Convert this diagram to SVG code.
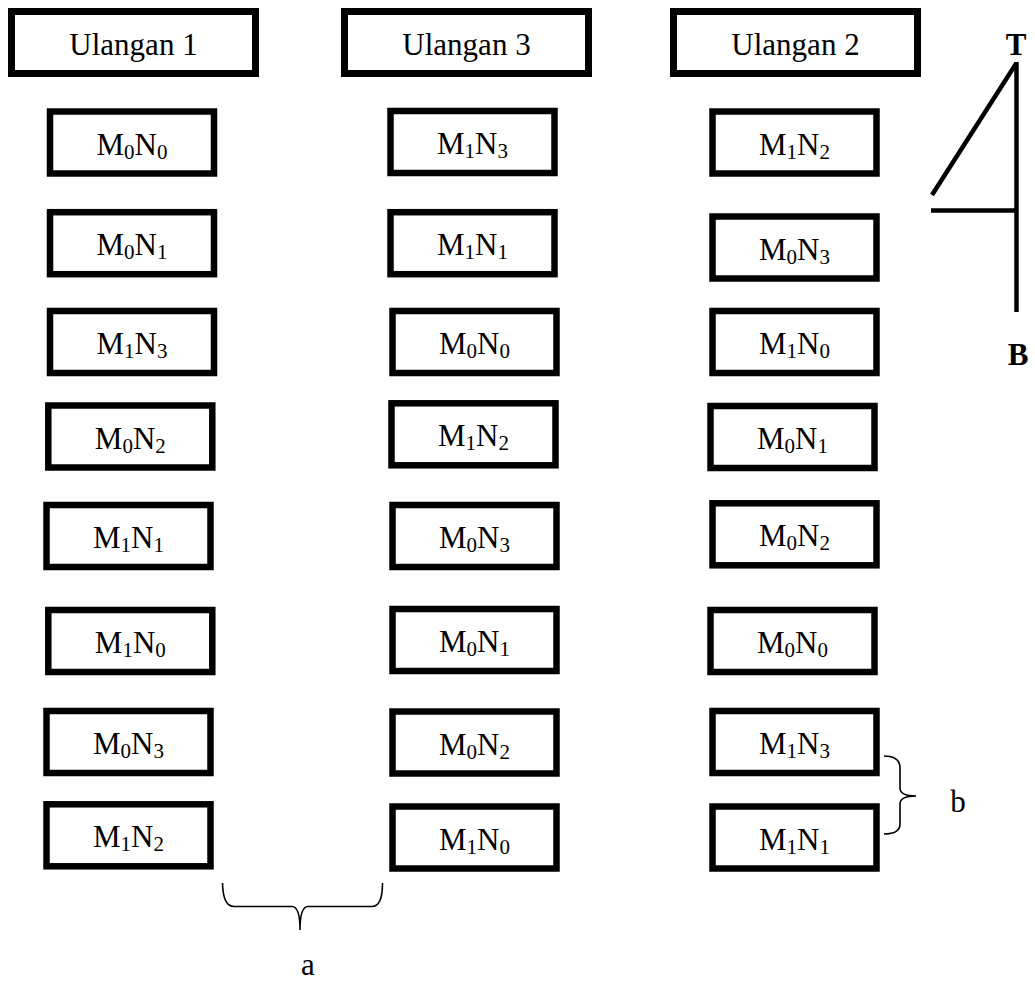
<svg xmlns="http://www.w3.org/2000/svg" width="1035" height="981" viewBox="0 0 1035 981">
<style>
.hdr rect{fill:#fff;stroke:#000;stroke-width:7}
.box rect{fill:#fff;stroke:#000;stroke-width:6.5}
text{font-family:"Liberation Serif","Times New Roman",serif;font-size:31px;fill:#000;text-anchor:middle}
.s{font-size:21px}
.bold{font-weight:bold}
.cl{fill:none;stroke:#000;stroke-width:4.5}
.br{fill:none;stroke:#000;stroke-width:1.6}
</style>
<rect width="1035" height="981" fill="#fff"/>
<g id="h1" class="hdr"><rect x="11.5" y="11.5" width="244" height="62"/><text x="133.5" y="55">Ulangan 1</text></g>
<g id="h3" class="hdr"><rect x="344.5" y="11.5" width="244" height="62"/><text x="466.5" y="55">Ulangan 3</text></g>
<g id="h2" class="hdr"><rect x="673.5" y="11.5" width="244" height="62"/><text x="795.5" y="55">Ulangan 2</text></g>

<g id="c1r1" class="box"><rect x="50" y="111.5" width="164" height="62"/><text x="132" y="154.5">M<tspan class="s" dy="4">0</tspan><tspan dy="-4">N</tspan><tspan class="s" dy="4">0</tspan></text></g>
<g id="c1r2" class="box"><rect x="50" y="212.2" width="164" height="62"/><text x="132" y="255.2">M<tspan class="s" dy="4">0</tspan><tspan dy="-4">N</tspan><tspan class="s" dy="4">1</tspan></text></g>
<g id="c1r3" class="box"><rect x="50" y="311" width="164" height="62"/><text x="132" y="354">M<tspan class="s" dy="4">1</tspan><tspan dy="-4">N</tspan><tspan class="s" dy="4">3</tspan></text></g>
<g id="c1r4" class="box"><rect x="48.3" y="405.5" width="164" height="62"/><text x="130.3" y="448.5">M<tspan class="s" dy="4">0</tspan><tspan dy="-4">N</tspan><tspan class="s" dy="4">2</tspan></text></g>
<g id="c1r5" class="box"><rect x="46.5" y="505" width="164" height="62"/><text x="128.5" y="548">M<tspan class="s" dy="4">1</tspan><tspan dy="-4">N</tspan><tspan class="s" dy="4">1</tspan></text></g>
<g id="c1r6" class="box"><rect x="48.3" y="610" width="164" height="62"/><text x="130.3" y="653">M<tspan class="s" dy="4">1</tspan><tspan dy="-4">N</tspan><tspan class="s" dy="4">0</tspan></text></g>
<g id="c1r7" class="box"><rect x="46.5" y="711" width="164" height="62"/><text x="128.5" y="754">M<tspan class="s" dy="4">0</tspan><tspan dy="-4">N</tspan><tspan class="s" dy="4">3</tspan></text></g>
<g id="c1r8" class="box"><rect x="46.5" y="804.3" width="164" height="62"/><text x="128.5" y="847.3">M<tspan class="s" dy="4">1</tspan><tspan dy="-4">N</tspan><tspan class="s" dy="4">2</tspan></text></g>

<g id="c2r1" class="box"><rect x="390.5" y="111" width="164" height="62"/><text x="472.5" y="154">M<tspan class="s" dy="4">1</tspan><tspan dy="-4">N</tspan><tspan class="s" dy="4">3</tspan></text></g>
<g id="c2r2" class="box"><rect x="390.5" y="212.2" width="164" height="62"/><text x="472.5" y="255.2">M<tspan class="s" dy="4">1</tspan><tspan dy="-4">N</tspan><tspan class="s" dy="4">1</tspan></text></g>
<g id="c2r3" class="box"><rect x="392.5" y="311" width="164" height="62"/><text x="474.5" y="354">M<tspan class="s" dy="4">0</tspan><tspan dy="-4">N</tspan><tspan class="s" dy="4">0</tspan></text></g>
<g id="c2r4" class="box"><rect x="391.5" y="403.3" width="164" height="62"/><text x="473.5" y="446.3">M<tspan class="s" dy="4">1</tspan><tspan dy="-4">N</tspan><tspan class="s" dy="4">2</tspan></text></g>
<g id="c2r5" class="box"><rect x="392.5" y="505" width="164" height="62"/><text x="474.5" y="548">M<tspan class="s" dy="4">0</tspan><tspan dy="-4">N</tspan><tspan class="s" dy="4">3</tspan></text></g>
<g id="c2r6" class="box"><rect x="392.5" y="609" width="164" height="62"/><text x="474.5" y="652">M<tspan class="s" dy="4">0</tspan><tspan dy="-4">N</tspan><tspan class="s" dy="4">1</tspan></text></g>
<g id="c2r7" class="box"><rect x="392.5" y="711.5" width="164" height="62"/><text x="474.5" y="754.5">M<tspan class="s" dy="4">0</tspan><tspan dy="-4">N</tspan><tspan class="s" dy="4">2</tspan></text></g>
<g id="c2r8" class="box"><rect x="392.5" y="806.5" width="164" height="62"/><text x="474.5" y="849.5">M<tspan class="s" dy="4">1</tspan><tspan dy="-4">N</tspan><tspan class="s" dy="4">0</tspan></text></g>

<g id="c3r1" class="box"><rect x="712.5" y="111.5" width="164" height="62"/><text x="794.5" y="154.5">M<tspan class="s" dy="4">1</tspan><tspan dy="-4">N</tspan><tspan class="s" dy="4">2</tspan></text></g>
<g id="c3r2" class="box"><rect x="712.5" y="216.5" width="164" height="62"/><text x="794.5" y="259.5">M<tspan class="s" dy="4">0</tspan><tspan dy="-4">N</tspan><tspan class="s" dy="4">3</tspan></text></g>
<g id="c3r3" class="box"><rect x="712.5" y="311" width="164" height="62"/><text x="794.5" y="354">M<tspan class="s" dy="4">1</tspan><tspan dy="-4">N</tspan><tspan class="s" dy="4">0</tspan></text></g>
<g id="c3r4" class="box"><rect x="710.5" y="406" width="164" height="62"/><text x="792.5" y="449">M<tspan class="s" dy="4">0</tspan><tspan dy="-4">N</tspan><tspan class="s" dy="4">1</tspan></text></g>
<g id="c3r5" class="box"><rect x="712.5" y="503.3" width="164" height="62"/><text x="794.5" y="546.3">M<tspan class="s" dy="4">0</tspan><tspan dy="-4">N</tspan><tspan class="s" dy="4">2</tspan></text></g>
<g id="c3r6" class="box"><rect x="710.5" y="610" width="164" height="62"/><text x="792.5" y="653">M<tspan class="s" dy="4">0</tspan><tspan dy="-4">N</tspan><tspan class="s" dy="4">0</tspan></text></g>
<g id="c3r7" class="box"><rect x="712.5" y="711" width="164" height="62"/><text x="794.5" y="754">M<tspan class="s" dy="4">1</tspan><tspan dy="-4">N</tspan><tspan class="s" dy="4">3</tspan></text></g>
<g id="c3r8" class="box"><rect x="712.5" y="806.5" width="164" height="62"/><text x="794.5" y="849.5">M<tspan class="s" dy="4">1</tspan><tspan dy="-4">N</tspan><tspan class="s" dy="4">1</tspan></text></g>

<g id="compass">
<line class="cl" x1="1016.5" y1="62" x2="1016.5" y2="312"/>
<line class="cl" x1="1016.5" y1="63" x2="932" y2="195"/>
<line class="cl" x1="931" y1="210.5" x2="1016.5" y2="210.5"/>
<text class="bold" x="1016" y="55">T</text>
<text class="bold" x="1018" y="365">B</text>
</g>

<g id="connectors">
<path class="br" d="M222.5,883 Q223,906.5 234,906.5 L292,906.5 Q300,906.5 300,930 Q300,906.5 308,906.5 L372,906.5 Q382.5,906.5 382.5,883"/>
<path class="br" d="M884,756 Q900,756 900,768 L900,788 Q900,796 916,796 Q900,796 900,804 L900,824 Q900,834 884,834"/>
</g>
<g id="labels">
<text x="308" y="975">a</text>
<text x="958" y="812">b</text>
</g>
</svg>
